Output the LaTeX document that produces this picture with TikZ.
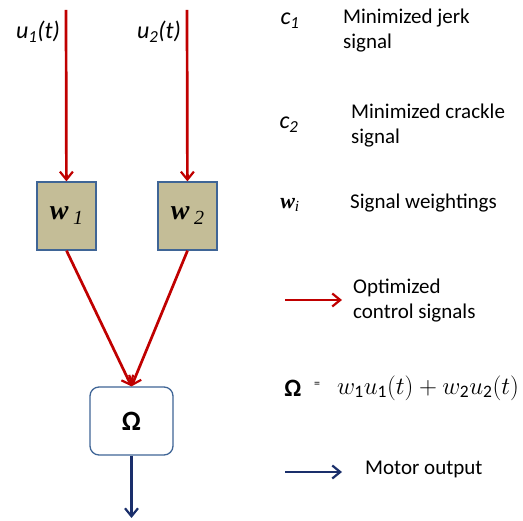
\documentclass[tikz,border=0pt]{standalone}
\usepackage{fontspec}
\setmainfont{Carlito}
\newfontfamily\timesf{Liberation Serif}
\usepackage{tikz}
\usetikzlibrary{positioning,arrows.meta}
\definecolor{SigRed}{HTML}{C00000}
\definecolor{MotorBlue}{HTML}{1A2F6B}
\definecolor{BoxTan}{HTML}{C4BD97}
\definecolor{BoxEdge}{HTML}{3F6596}

\begin{document}
\begin{tikzpicture}[x=1pt,y=-1pt,
 weight/.style={draw=BoxEdge,line width=1.3pt,fill=BoxTan,minimum width=59pt,minimum height=68pt,inner sep=0pt},
 sumbox/.style={draw=BoxEdge,line width=1.3pt,fill=white,rounded corners=9pt,minimum width=83pt,minimum height=68pt,inner sep=0pt},
 sig/.style={draw=SigRed,line width=2.7pt,-{Straight Barb[length=8pt,width=13pt,line width=2.2pt]}},
 motor/.style={draw=MotorBlue,line width=2.7pt,-{Straight Barb[length=8pt,width=13pt,line width=2.2pt]}},
 legend/.style={font=\fontsize{21}{25}\selectfont,align=left,anchor=west,inner sep=0pt},
 var/.style={font=\fontsize{24}{26}\selectfont\itshape}]
\useasboundingbox (0,0) rectangle (523,521);
% inputs
\coordinate (in1) at (66,10);
\coordinate (in2) at (187,10);
\node[var] (u1) at (38,32) {u\textsubscript{1}(t)};
\node[var] (u2) at (159,32) {u\textsubscript{2}(t)};
\node[weight] (w1) at (66.5,216) {\timesf\fontsize{28}{30}\selectfont\bfseries\itshape w\,\raisebox{-5pt}{\fontsize{20}{22}\selectfont\mdseries 1}};
\node[weight] (w2) at (187.5,216) {\timesf\fontsize{28}{30}\selectfont\bfseries\itshape w\,\raisebox{-5pt}{\fontsize{20}{22}\selectfont\mdseries 2}};
\node[sumbox] (sum) at (131.5,421) {\fontsize{28}{30}\selectfont\bfseries Ω};
\coordinate (motorend) at (131.5,518);
\draw[sig] (in1) -- (w1);
\draw[sig] (in2) -- (w2);
\draw[sig] (w1.south) -- (sum.north);
\draw[sig] (w2.south) -- (sum.north);
\draw[motor] (sum) -- (motorend);
% legend
\node[var] (c1) at (290,21) {c\textsubscript{1}};
\node[legend] (c1txt) at (343,30.5) {Minimized jerk\\signal};
\node[var] (c2) at (289,125) {c\textsubscript{2}};
\node[legend] (c2txt) at (351,126) {Minimized crackle\\signal};
\node[font=\timesf\fontsize{22}{24}\selectfont\bfseries\itshape] (wi) at (290,205) {w\textsubscript{\mdseries i}};
\node[legend] (witxt) at (350,203.5) {Signal weightings};
\coordinate (ra) at (285,300);
\coordinate (rb) at (342,300);
\draw[sig] (ra) -- (rb);
\node[legend] (rtxt) at (353,300.5) {Optimized\\control signals};
\node[font=\fontsize{25}{28}\selectfont\bfseries] (om) at (293,388) {Ω};
\node[font=\fontsize{12}{14}\selectfont] (eq) at (317,385) {=};
\node[font=\fontsize{25}{28}\selectfont] (formula) at (428,388) {$w_{\mathrm{1}}u_{\mathrm{1}}(t)+w_{\mathrm{2}}u_{\mathrm{2}}(t)$};
\coordinate (ba) at (285,472);
\coordinate (bb) at (342,472);
\draw[motor] (ba) -- (bb);
\node[legend] (btxt) at (365,469) {Motor output};
\end{tikzpicture}
\end{document}
